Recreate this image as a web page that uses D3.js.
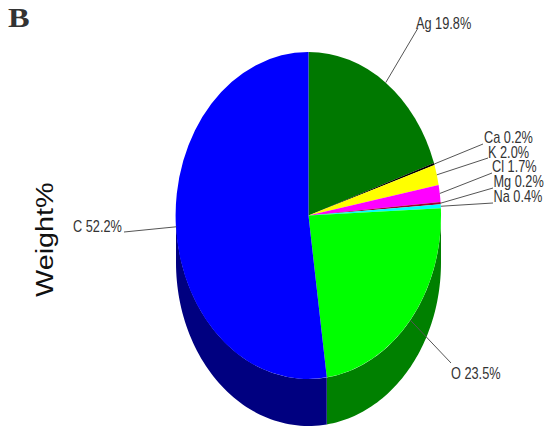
<!DOCTYPE html>
<html>
<head>
<meta charset="utf-8">
<title>Weight%</title>
<script src="https://cdn.jsdelivr.net/npm/d3@7"></script>
<style>
    html, body { margin: 0; padding: 0; background: #fff; }
    svg { display: block; }
    .lbl { font-family: "Liberation Sans", sans-serif; font-size: 17px; fill: #333; }
    .leader { stroke: #555; stroke-width: 1; fill: none; }
</style>
</head>
<body>
<svg id="chart" width="550" height="435"></svg>
<script>
// Datos de la figura
const elements = ['Ag', 'Ca', 'K', 'Cl', 'Mg', 'Na', 'O', 'C'];
const weights = [19.8, 0.2, 2.0, 1.7, 0.2, 0.4, 23.5, 52.2];
const topColors = ['#007800', '#000000', '#ffff00', '#ff00ff', '#a00030', '#00ffff', '#00ff00', '#0000ff'];
const sideColors = ['#005000', '#000000', '#808000', '#800080', '#600000', '#008080', '#008000', '#000080'];

// Donde termina cada linea guia y donde va el texto
const labelEnds = [[418, 28], [483, 144], [488, 158], [492, 173], [493, 188], [493, 203], [451, 363], [124, 232]];
const labelPos = [[416, 29], [484, 143], [488, 158], [492, 172], [493.5, 187], [493.5, 202], [451, 379], [73, 232]];

const W = 550, H = 435;
const cx = 308.5, cy = 215.5, rx = 132.5, ry = 163.5, depth = 47;
const narrow = 0.75; // las etiquetas del original son condensadas

const svg = d3.select('#chart').attr('viewBox', `0 0 ${W} ${H}`);

const pie = d3.pie().sort(null).value(d => d)(weights);
const arc = d3.arc().innerRadius(0).outerRadius(1);

// angulo medido desde arriba en sentido horario
const rim = (a, dy = 0) => [cx + rx * Math.sin(a), cy - ry * Math.cos(a) + dy];
const line = d3.line();

// Pared lateral: solo la parte de abajo del elipse es visible
pie.forEach((d, i) => {
    const a0 = Math.max(d.startAngle, Math.PI / 2);
    const a1 = Math.min(d.endAngle, Math.PI * 3 / 2);
    if (a1 <= a0) return;
    const top = d3.range(0, 61).map(k => rim(a0 + (a1 - a0) * k / 60));
    const bottom = d3.range(60, -1, -1).map(k => rim(a0 + (a1 - a0) * k / 60, depth));
    svg.append('path')
        .attr('d', line(top.concat(bottom)) + 'Z')
        .attr('fill', sideColors[i]);
});

// Cara superior: arco unitario escalado al elipse
svg.append('g')
    .attr('transform', `translate(${cx},${cy}) scale(${rx},${ry})`)
    .selectAll('path')
    .data(pie)
    .enter()
    .append('path')
    .attr('d', arc)
    .attr('fill', (d, i) => topColors[i]);

// Lineas guia desde el punto medio de cada porcion
pie.forEach((d, i) => {
    const start = rim((d.startAngle + d.endAngle) / 2);
    svg.append('path')
        .attr('class', 'leader')
        .attr('d', line([start, labelEnds[i]]));
    svg.append('text')
        .attr('class', 'lbl')
        .attr('transform', `translate(${labelPos[i][0]},${labelPos[i][1]}) scale(${narrow},1)`)
        .text(`${elements[i]} ${weights[i].toFixed(1)}%`);
});

svg.append('text')
    .attr('transform', 'translate(8,27) scale(1.2,1)')
    .attr('font-family', '"Liberation Serif", serif')
    .attr('font-weight', 'bold')
    .attr('font-size', 27)
    .attr('fill', '#333')
    .text('B');

svg.append('text')
    .attr('transform', 'translate(53,297) rotate(-90) scale(1.2,1)')
    .attr('font-family', '"Liberation Sans", sans-serif')
    .attr('font-size', 24)
    .attr('fill', '#111')
    .text('Weight%');
</script>
</body>
</html>
